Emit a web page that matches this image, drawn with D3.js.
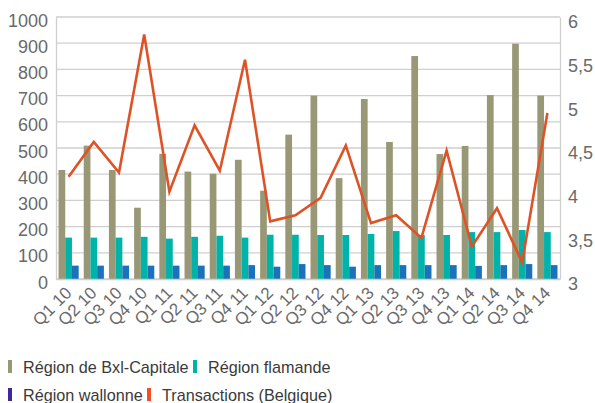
<!DOCTYPE html>
<html>
<head>
<meta charset="utf-8">
<script src="https://cdn.jsdelivr.net/npm/d3@7"></script>
<style>
  body { margin: 0; background: #fff; }
  svg { font-family: "Liberation Sans", Arial, sans-serif; }
  .tick text { fill: #6a6a6a; }
</style>
</head>
<body>
<div id="chart"></div>
<script>
// quarters on the x axis
const quarters = ["Q1 10","Q2 10","Q3 10","Q4 10","Q1 11","Q2 11","Q3 11","Q4 11",
  "Q1 12","Q2 12","Q3 12","Q4 12","Q1 13","Q2 13","Q3 13","Q4 13",
  "Q1 14","Q2 14","Q3 14","Q4 14"];

// bar series (left axis)
const bxl = [416,509,416,272,478,410,402,455,337,551,700,385,687,523,851,477,508,702,898,700];
const flamande = [158,158,158,161,154,161,165,158,169,169,168,168,172,183,168,168,179,179,187,179];
const wallonne = [51,51,51,51,51,51,51,53,47,57,53,47,53,53,53,53,50,53,57,53];

// line series (right axis)
const transactions = [4.17,4.57,4.22,5.8,4.0,4.76,4.24,5.51,3.66,3.73,3.93,4.53,3.64,3.73,3.47,4.47,3.37,3.81,3.19,4.9];

const leftTicks = [0,100,200,300,400,500,600,700,800,900,1000];
const rightTicks = [3,3.5,4,4.5,5,5.5,6];

const series = [
  {name: "Région de Bxl-Capitale", values: bxl, color: "#999876", legend: "#999876"},
  {name: "Région flamande", values: flamande, color: "#00b3a9", legend: "#00b3a9"},
  {name: "Région wallonne", values: wallonne, color: "#1b72b9", legend: "#41289a"}
];
const lineColor = "#dd5326";

const W = 595, H = 403;
const m = {left: 56, right: 35, top: 17, bottom: 124};
const iw = W - m.left - m.right, ih = H - m.top - m.bottom;

const svg = d3.select("#chart").append("svg").attr("width", W).attr("height", H);
const g = svg.append("g").attr("transform", `translate(${m.left},${m.top})`);

const x = d3.scaleBand().domain(quarters).range([0, iw]).paddingInner(0.2).paddingOuter(0.1);
const xs = d3.scaleBand().domain(d3.range(series.length)).range([0, x.bandwidth()]);
const y = d3.scaleLinear().domain([0, 1000]).range([ih, 0]);
const y2 = d3.scaleLinear().domain([3, 6]).range([ih, 0]);

// gridlines
g.append("g").selectAll("line").data(leftTicks).join("line")
  .attr("x1", 0).attr("x2", iw)
  .attr("y1", d => y(d)).attr("y2", d => y(d))
  .attr("stroke", "#cfcfcf").attr("stroke-width", 1.3);

// left axis
const ya = g.append("g").call(d3.axisLeft(y).tickValues(leftTicks).tickSize(0).tickPadding(8)
  .tickFormat(d3.format("d")));
ya.select(".domain").attr("stroke", "#cfcfcf").attr("stroke-width", 1.3);
ya.selectAll("text").attr("font-size", 18).attr("dy", "0.5em");

// right axis
const ya2 = g.append("g").attr("transform", `translate(${iw},0)`)
  .call(d3.axisRight(y2).tickValues(rightTicks).tickSize(0).tickPadding(8)
    .tickFormat(d => String(d).replace(".", ",")));
ya2.select(".domain").attr("stroke", "#cfcfcf").attr("stroke-width", 1.3);
ya2.selectAll("text").attr("font-size", 18).attr("dy", "0.6em");

// bars
series.forEach((s, si) => {
  g.append("g").selectAll("rect").data(s.values).join("rect")
    .attr("x", (d, i) => x(quarters[i]) + xs(si))
    .attr("width", xs.bandwidth())
    .attr("y", d => y(d))
    .attr("height", d => ih - y(d))
    .attr("fill", s.color);
});

// x axis
const xa = g.append("g").attr("transform", `translate(0,${ih})`)
  .call(d3.axisBottom(x).tickSize(0).tickPadding(0));
xa.select(".domain").attr("stroke", "#cfcfcf").attr("stroke-width", 1.3);
xa.selectAll("text")
  .attr("font-size", 17)
  .attr("text-anchor", "end")
  .attr("dy", 0)
  .attr("transform", "translate(4,15) rotate(-45)");

// line
const line = d3.line()
  .x((d, i) => x(quarters[i]) + x.bandwidth() / 2)
  .y(d => y2(d));
g.append("path").datum(transactions)
  .attr("d", line)
  .attr("fill", "none")
  .attr("stroke", lineColor)
  .attr("stroke-width", 2.6)
  .attr("stroke-linejoin", "miter");

// legend
const legendItems = [
  {name: series[0].name, color: series[0].legend, x: 8, y: 367},
  {name: series[1].name, color: series[1].legend, x: 193, y: 367},
  {name: series[2].name, color: series[2].legend, x: 8, y: 395},
  {name: "Transactions (Belgique)", color: "#f04e23", x: 147, y: 395}
];
const lg = svg.append("g");
const li = lg.selectAll("g").data(legendItems).join("g")
  .attr("transform", d => `translate(${d.x},${d.y})`);
li.append("rect").attr("x", 0).attr("y", -7).attr("width", 4).attr("height", 13)
  .attr("fill", d => d.color);
li.append("text").attr("x", 15).attr("dy", "0.35em")
  .attr("font-size", 16.2).attr("fill", "#3a3a3a").text(d => d.name);
</script>
</body>
</html>
